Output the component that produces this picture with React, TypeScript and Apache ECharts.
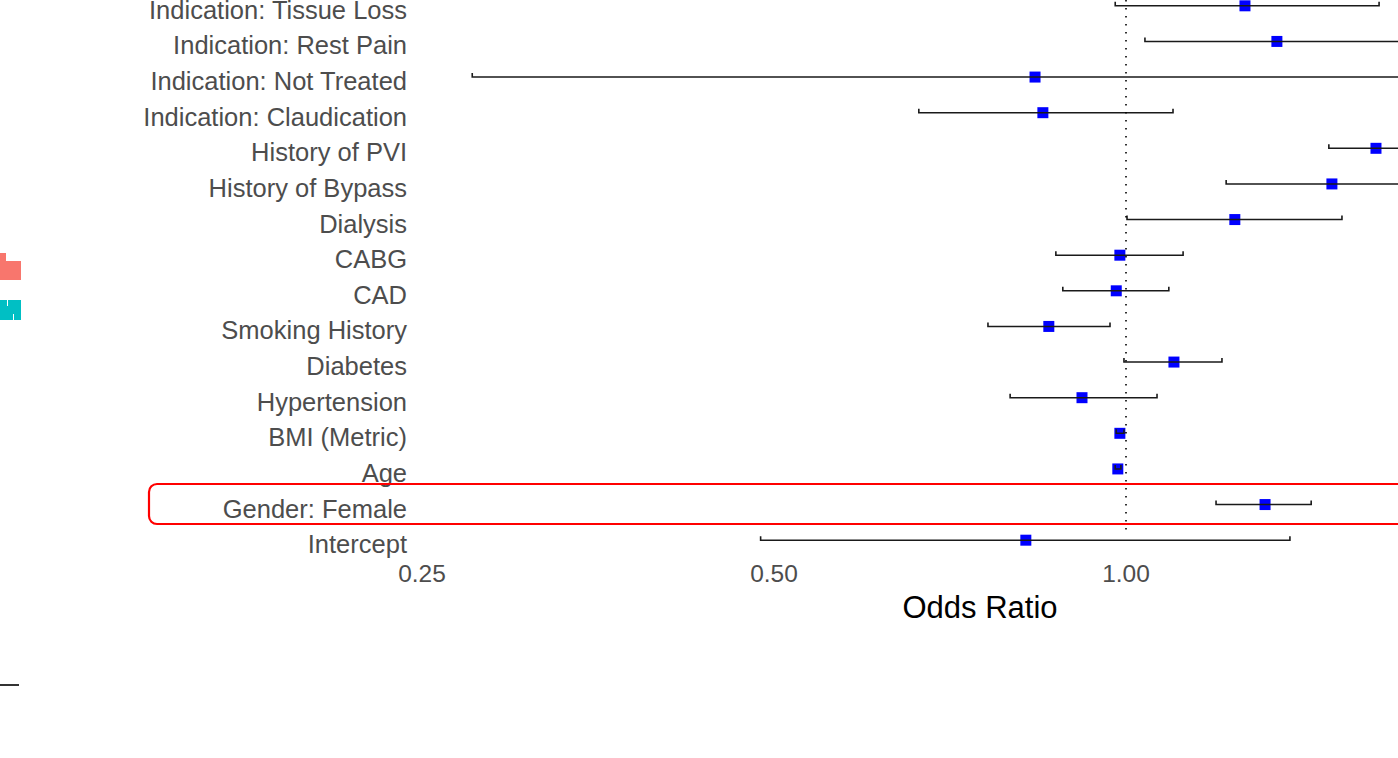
import React, { useEffect, useRef } from "react";
import * as echarts from "echarts";

// Model terms, bottom row first
const terms = [
  "Intercept",
  "Gender: Female",
  "Age",
  "BMI (Metric)",
  "Hypertension",
  "Diabetes",
  "Smoking History",
  "CAD",
  "CABG",
  "Dialysis",
  "History of Bypass",
  "History of PVI",
  "Indication: Claudication",
  "Indication: Not Treated",
  "Indication: Rest Pain",
  "Indication: Tissue Loss",
];
const oddsRatio = [0.821, 1.315, 0.984, 0.988, 0.917, 1.099, 0.859, 0.981, 0.988, 1.239, 1.5, 1.636, 0.849, 0.836, 1.346, 1.264];
const ciLow = [0.487, 1.194, 0.979, 0.981, 0.796, 0.996, 0.762, 0.883, 0.871, 1.002, 1.218, 1.491, 0.665, 0.276, 1.038, 0.979];
const ciHigh = [1.381, 1.44, 0.99, 0.996, 1.063, 1.208, 0.969, 1.088, 1.119, 1.53, 1.85, 1.8, 1.097, 2.5, 1.75, 1.646];
const xMin = 0.25;
const xMax = 2;
const referenceOR = 1;

const FONT = '"Liberation Sans", Arial, sans-serif';

export default function App() {
  const ref = useRef<HTMLDivElement>(null);
  useEffect(() => {
    if (!ref.current) return;
    const chart = echarts.init(ref.current, null, { renderer: "svg" });
    const barData = terms.map((t, i) => [ciLow[i], ciHigh[i], i]);
    const pointData = terms.map((t, i) => [oddsRatio[i], t]);
    chart.setOption({
      animation: false,
      backgroundColor: "#ffffff",
      textStyle: { fontFamily: FONT },
      grid: {
        left: 422,
        right: -80,
        top: -12,
        bottom: 200,
        containLabel: false,
        outerBoundsMode: "none",
      },
      xAxis: {
        type: "log",
        logBase: 2,
        min: xMin,
        max: xMax,
        interval: 1,
        axisLine: { show: false },
        axisTick: { show: false },
        splitLine: { show: false },
        axisLabel: {
          margin: 3,
          fontSize: 24.5,
          color: "#4d4d4d",
          fontFamily: FONT,
          showMaxLabel: false,
          formatter: (v: number) => v.toFixed(2),
        },
        name: "Odds Ratio",
        nameLocation: "middle",
        nameGap: 34,
        nameTextStyle: { fontSize: 31, color: "#000000", fontFamily: FONT, padding: [0, 0, 0, 60] },
      },
      yAxis: {
        type: "category",
        data: terms,
        axisLine: { show: false },
        axisTick: { show: false },
        splitLine: { show: false },
        axisLabel: {
          margin: 15,
          fontSize: 25.5,
          color: "#4d4d4d",
          fontFamily: FONT,
          verticalAlign: "top",
          lineHeight: 8,
        },
      },
      graphic: [
        { type: "rect", shape: { x: 0, y: 253, width: 6, height: 27 }, style: { fill: "#f8766d" } },
        { type: "rect", shape: { x: 5, y: 261, width: 16, height: 19 }, style: { fill: "#f8766d" } },
        { type: "rect", shape: { x: 0, y: 300, width: 21, height: 20 }, style: { fill: "#00bfc4" } },
        { type: "rect", shape: { x: 7, y: 300, width: 1, height: 6 }, style: { fill: "#ffffff" } },
        { type: "rect", shape: { x: 13, y: 314, width: 1, height: 6 }, style: { fill: "#ffffff" } },
        { type: "line", shape: { x1: 0, y1: 685, x2: 19, y2: 685 }, style: { stroke: "#333333", lineWidth: 2 } },
        {
          type: "rect",
          z: 100,
          shape: { x: 149, y: 484, width: 1400, height: 40, r: 8 },
          style: { fill: "none", stroke: "#ff0000", lineWidth: 2.2 },
        },
      ],
      series: [
        {
          type: "scatter",
          data: pointData,
          symbol: "rect",
          symbolSize: 11,
          itemStyle: { color: "#0000ff", opacity: 1 },
          z: 3,
          markLine: {
            silent: true,
            symbol: "none",
            label: { show: false },
            lineStyle: { color: "#000000", width: 1.6, type: [1.6, 6.4] },
            data: [[{ xAxis: referenceOR, y: 0 }, { xAxis: referenceOR, y: 534 }]],
          },
        },
        {
          type: "custom",
          data: barData,
          z: 4,
          clip: false,
          renderItem: (params: any, api: any) => {
            const idx = api.value(2);
            const p1 = api.coord([api.value(0), idx]);
            const p2 = api.coord([api.value(1), idx]);
            const y = p1[1];
            return {
              type: "polyline",
              shape: { points: [[p1[0], y - 4], [p1[0], y], [p2[0], y], [p2[0], y - 4]] },
              style: { stroke: "#1a1a1a", lineWidth: 1.6, fill: "none" },
            };
          },
        },
      ],
    });
    return () => chart.dispose();
  }, []);
  return (
    <div
      ref={ref}
      style={{ position: "absolute", left: 0, top: 0, width: 1398, height: 758, overflow: "hidden" }}
    />
  );
}
